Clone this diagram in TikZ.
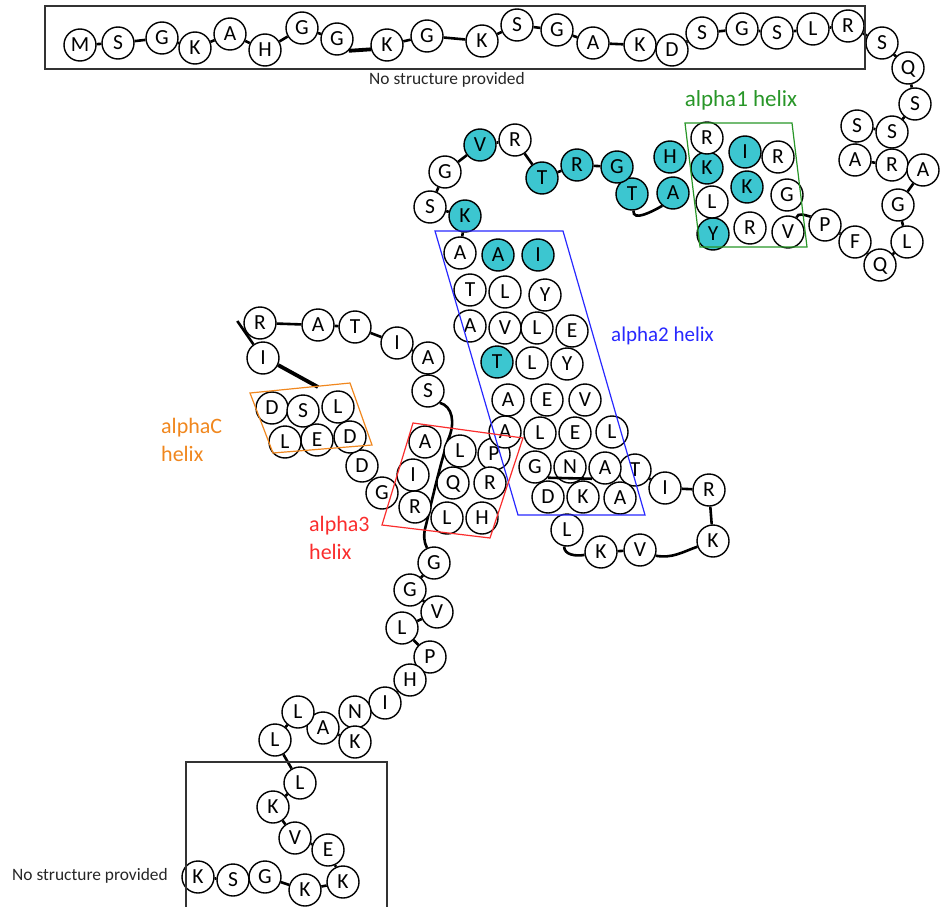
\documentclass[tikz,border=0pt]{standalone}
\usepackage{fontspec}
\setmainfont{Carlito}
\usetikzlibrary{calc}
\definecolor{aacyan}{RGB}{60,198,208}
\definecolor{hgreen}{RGB}{40,150,40}
\definecolor{hblue}{RGB}{40,40,255}
\definecolor{hred}{RGB}{250,45,45}
\definecolor{horange}{RGB}{240,135,30}
\pgfdeclarelayer{bg}
\pgfsetlayers{bg,main}
\begin{document}
\begin{tikzpicture}[x=1pt,y=1pt,
 res/.style={circle,draw=black,line width=1.4pt,fill=white,minimum size=32pt,inner sep=0pt,
   font=\fontsize{21.5}{22}\selectfont,text height=13.8pt,text depth=0pt},
 cy/.style={res,fill=aacyan},
 link/.style={line width=2.6pt,black},
 heavy/.style={line width=3.8pt,black},
 hbox/.style={line width=1.2pt},
 nsbox/.style={line width=1.4pt,draw=black!80},
 lbl/.style={font=\fontsize{22}{28}\selectfont,align=left,inner sep=0pt},
 nslbl/.style={font=\fontsize{17.4}{18}\selectfont,text=black!85,inner sep=0pt}]
\useasboundingbox (0,0) rectangle (943,-907);
% top row
\node[res] (m1) at (80,-45) {M};
\node[res] (s2) at (118,-43) {S};
\node[res] (g3) at (162,-38) {G};
\node[res] (k4) at (195,-48) {K};
\node[res] (a5) at (230,-34) {A};
\node[res] (h6) at (265,-50) {H};
\node[res] (g7) at (302,-28) {G};
\node[res] (g8) at (337,-39) {G};
\node[res] (k9) at (387,-45) {K};
\node[res] (g10) at (427,-36) {G};
\node[res] (k11) at (482,-41) {K};
\node[res] (s12) at (517,-25) {S};
\node[res] (g13) at (557,-30) {G};
\node[res] (a14) at (593,-43) {A};
\node[res] (k15) at (640,-45) {K};
\node[res] (d16) at (672,-50) {D};
\node[res] (s17) at (702,-33) {S};
\node[res] (g18) at (742,-29) {G};
\node[res] (s19) at (777,-33) {S};
\node[res] (l20) at (813,-29) {L};
\node[res] (r21) at (848,-26) {R};
% right side
\node[res] (s22) at (882,-43) {S};
\node[res] (q23) at (908,-68) {Q};
\node[res] (s24) at (915,-104) {S};
\node[res] (s26) at (857,-126) {S};
\node[res] (s25) at (892,-132) {S};
\node[res] (a27) at (855,-160) {A};
\node[res] (r28) at (892,-165) {R};
\node[res] (a29) at (923,-170) {A};
\node[res] (g30) at (898,-205) {G};
\node[res] (l31) at (907,-242) {L};
\node[res] (q32) at (880,-265) {Q};
\node[res] (f33) at (855,-242) {F};
\node[res] (p34) at (825,-225) {P};
% alpha1
\node[res] (v35) at (788,-232) {V};
\node[res] (g36) at (787,-195) {G};
\node[res] (r37) at (778,-157) {R};
\node[cy] (i38) at (745,-152) {I};
\node[cy] (k39) at (747,-187) {K};
\node[res] (r40) at (750,-228) {R};
\node[cy] (y41) at (713,-234) {Y};
\node[res] (l42) at (712,-202) {L};
\node[cy] (k43) at (707,-168) {K};
\node[res] (r44) at (707,-138) {R};
\node[cy] (h45) at (670,-157) {H};
\node[cy] (a46) at (673,-193) {A};
\node[cy] (t47) at (632,-194) {T};
\node[cy] (g48) at (617,-167) {G};
\node[cy] (r49) at (577,-165) {R};
\node[cy] (t50) at (542,-178) {T};
\node[res] (r51) at (515,-140) {R};
\node[cy] (v52) at (480,-145) {V};
\node[res] (g53) at (445,-172) {G};
\node[res] (s54) at (430,-207) {S};
\node[cy] (k55) at (465,-216) {K};
% hidden ones first
\node[res] (p89) at (494,-454) {P};
\node[res] (t88) at (635,-470) {T};
% alpha2
\node[res] (a56) at (460,-253) {A};
\node[cy] (a57) at (498,-255) {A};
\node[cy] (i58) at (538,-255) {I};
\node[res] (t59) at (470,-290) {T};
\node[res] (l60) at (505,-292) {L};
\node[res] (y61) at (545,-295) {Y};
\node[res] (a62) at (470,-326) {A};
\node[res] (v63) at (505,-328) {V};
\node[res] (l64) at (537,-328) {L};
\node[res] (e65) at (572,-331) {E};
\node[cy] (t66) at (497,-362) {T};
\node[res] (l67) at (532,-363) {L};
\node[res] (y68) at (567,-364) {Y};
\node[res] (a69) at (508,-400) {A};
\node[res] (e70) at (547,-400) {E};
\node[res] (v71) at (585,-400) {V};
\node[res] (a72) at (505,-432) {A};
\node[res] (l73) at (540,-433) {L};
\node[res] (e74) at (575,-433) {E};
\node[res] (l75) at (612,-432) {L};
\node[res] (g76) at (535,-467) {G};
\node[res] (n77) at (570,-467) {N};
\node[res] (a78) at (605,-468) {A};
\node[res] (d79) at (548,-497) {D};
\node[res] (k80) at (583,-497) {K};
\node[res] (a81) at (620,-498) {A};
\node[res] (l82) at (567,-530) {L};
\node[res] (k83) at (601,-552) {K};
\node[res] (v84) at (640,-550) {V};
\node[res] (k85) at (713,-541) {K};
\node[res] (r86) at (709,-490) {R};
\node[res] (i87) at (665,-488) {I};
% alpha3
\node[res] (r90) at (490,-483) {R};
\node[res] (h91) at (482,-518) {H};
\node[res] (l92) at (447,-518) {L};
\node[res] (q93) at (453,-483) {Q};
\node[res] (l94) at (460,-451) {L};
\node[res] (a95) at (425,-442) {A};
\node[res] (i96) at (413,-475) {I};
\node[res] (r97) at (415,-507) {R};
\node[res] (g98) at (382,-493) {G};
\node[res] (d99) at (362,-466) {D};
% alphaC
\node[res] (d100) at (350,-437) {D};
\node[res] (e101) at (317,-440) {E};
\node[res] (l102) at (285,-442) {L};
\node[res] (d103) at (272,-408) {D};
\node[res] (s104) at (303,-411) {S};
\node[res] (l105) at (338,-407) {L};
% loop
\node[res] (i106) at (263,-358) {I};
\node[res] (r107) at (260,-323) {R};
\node[res] (a108) at (318,-325) {A};
\node[res] (t109) at (355,-327) {T};
\node[res] (i110) at (397,-343) {I};
\node[res] (a111) at (428,-358) {A};
\node[res] (s112) at (428,-391) {S};
% lower tail
\node[res] (g113) at (434,-563) {G};
\node[res] (g114) at (410,-590) {G};
\node[res] (v115) at (437,-612) {V};
\node[res] (l116) at (402,-628) {L};
\node[res] (p117) at (430,-657) {P};
\node[res] (h118) at (410,-680) {H};
\node[res] (i119) at (385,-703) {I};
\node[res] (n120) at (355,-712) {N};
\node[res] (k121) at (355,-742) {K};
\node[res] (a122) at (323,-728) {A};
\node[res] (l123) at (298,-712) {L};
\node[res] (l124) at (275,-740) {L};
\node[res] (l125) at (300,-783) {L};
\node[res] (k126) at (273,-807) {K};
\node[res] (v127) at (295,-838) {V};
\node[res] (e128) at (328,-850) {E};
\node[res] (k129) at (343,-882) {K};
\node[res] (k130) at (305,-890) {K};
\node[res] (g131) at (265,-877) {G};
\node[res] (s132) at (233,-880) {S};
\node[res] (k133) at (198,-877) {K};
% free ends
\coordinate (ilend) at (318,-387);
% connectors behind
\begin{pgfonlayer}{bg}
\foreach \a/\b in {m1/s2,s2/g3,g3/k4,k4/a5,a5/h6,h6/g7,g7/g8,k9/g10,g10/k11,k11/s12,s12/g13,
  g13/a14,a14/k15,k15/d16,d16/s17,s17/g18,g18/s19,s19/l20,l20/r21,r21/s22,s22/q23,q23/s24,
  s24/s25,s25/s26,s26/a27,a27/r28,r28/a29,a29/g30,g30/l31,l31/q32,q32/f33,f33/p34,
  t47/g48,g48/r49,r49/t50,t50/r51,r51/v52,v52/g53,g53/s54,s54/k55,k55/a56,
  k83/v84,k85/r86,r86/i87,i87/t88,g98/d99,d99/d100,
  r107/a108,a108/t109,t109/i110,i110/a111,a111/s112,
  g113/g114,g114/v115,v115/l116,l116/p117,p117/h118,h118/i119,i119/n120,n120/k121,
  k121/a122,a122/l123,l123/l124,l124/l125,l125/k126,k126/v127,v127/e128,e128/k129,
  k129/k130,k130/g131,g131/s132,s132/k133}
  \draw[link] (\a) -- (\b);
\draw[link] (v35.60) to[out=75,in=165] (p34.150);
\draw[link] (t47.-85) to[out=-95,in=-150] (a46.-130);
\draw[link] (l82.-100) to[out=-90,in=190] (k83.190);
\draw[link] (v84.-20) to[out=-10,in=200] (k85.200);
\draw[link] ([xshift=-6pt,yshift=2pt]r107.west) -- (i106.125);
\draw[link] (s112.-45) .. controls (452,-406) and (456,-422) .. (448,-440)
  .. controls (440,-465) and (432,-500) .. (426,-525)
  .. controls (423,-535) and (424,-542) .. (g113.115);
\end{pgfonlayer}
\draw[heavy] (g8.-45) -- (k9.195);
\draw[heavy] (i106.-25) -- (ilend);
\draw[link] (g76.-40) -- (a78.-140);
% boxes
\draw[nsbox] (45,-6) rectangle (865,-69);
\draw[nsbox] (186,-907) -- (186,-762) -- (387,-762) -- (387,-907);
\draw[hbox,draw=hgreen] (685,-123) -- (792,-123) -- (807,-247) -- (700,-247) -- cycle;
\draw[hbox,draw=hblue] (435,-231) -- (563,-231) -- (645,-515) -- (518,-515) -- cycle;
\draw[hbox,draw=hred] (413,-423) -- (523,-438) -- (490,-538) -- (382,-525) -- cycle;
\draw[hbox,draw=horange] (250,-393) -- (350,-383) -- (372,-445) -- (273,-453) -- cycle;
% labels
\node[nslbl] (ns1) at (447,-80) {No structure provided};
\node[nslbl,anchor=west] (ns2) at (12,-876) {No structure provided};
\node[lbl,text=hgreen,font=\fontsize{23}{28}\selectfont] (lab1) at (741,-100) {alpha1 helix};
\node[lbl,text=hblue,anchor=west,font=\fontsize{21}{28}\selectfont] (lab2) at (611,-336) {alpha2 helix};
\node[lbl,text=horange,anchor=west] (labc) at (161,-440) {alphaC\\helix};
\node[lbl,text=hred,anchor=west] (lab3) at (309,-538) {alpha3\\helix};
\end{tikzpicture}
\end{document}
